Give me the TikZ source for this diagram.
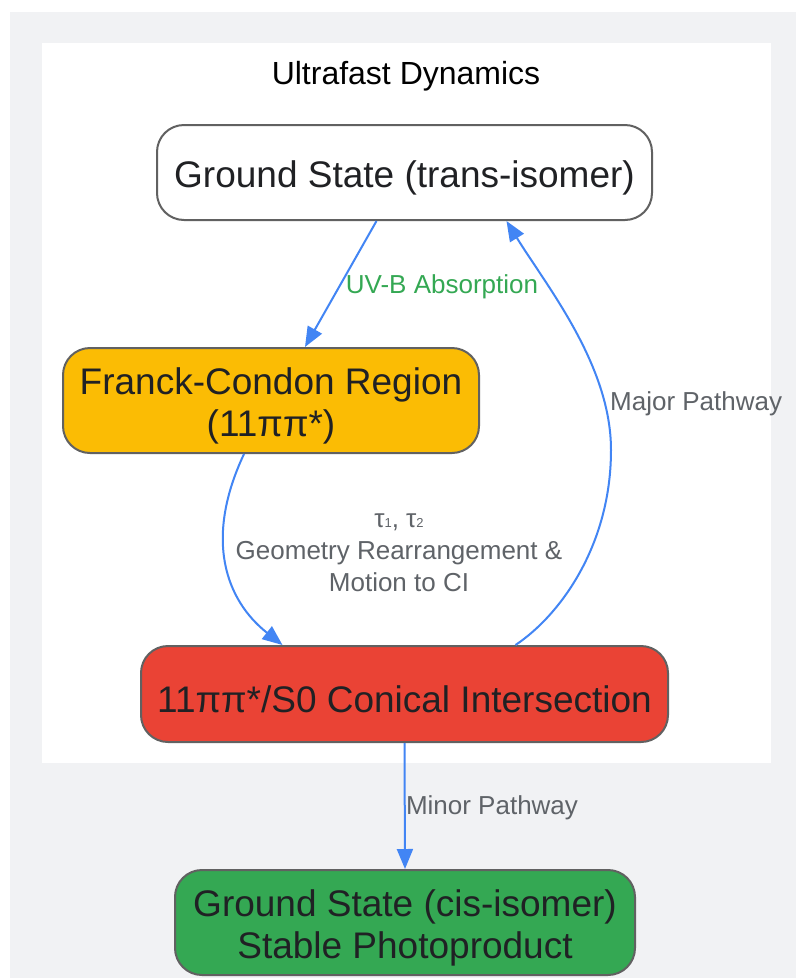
\documentclass[tikz,border=0pt]{standalone}
\usepackage{fontspec}
\setmainfont{Liberation Sans}
\usepackage{tikz}
\usetikzlibrary{arrows.meta}
\definecolor{canvas}{HTML}{F1F2F4}
\definecolor{nodeline}{HTML}{616161}
\definecolor{nodetext}{HTML}{202124}
\definecolor{labelgray}{HTML}{5F6368}
\definecolor{flowblue}{HTML}{4285F4}
\definecolor{fcyellow}{HTML}{FBBC04}
\definecolor{cired}{HTML}{EA4335}
\definecolor{cisgreen}{HTML}{34A853}
\tikzstyle{state} = [draw=nodeline, line width=2pt, rounded corners=27pt, text=nodetext, align=center, inner sep=0pt, font=\fontsize{37}{42}\selectfont]
\tikzstyle{flow} = [draw=flowblue, line width=2pt, -{Triangle[length=20pt,width=16pt]}]
\tikzstyle{edgelabel} = [text=labelgray, align=center, font=\fontsize{26}{32}\selectfont]
\newcommand{\sub}[1]{{\fontsize{13}{13}\selectfont #1}}
\newcommand{\lift}{\rule{0pt}{37pt}}

\begin{document}
\begin{tikzpicture}[x=1pt,y=-1pt]
		\useasboundingbox (0,0) rectangle (796,978);
		\fill[canvas] (10,12) rectangle (796,978);
		\fill[white] (42,43) rectangle (771,763);
		\node[font=\fontsize{32}{38}\selectfont] (title) at (406,76) {Ultrafast Dynamics};
		% states
		\node[state, fill=white, minimum width=495pt, minimum height=95pt] (trans) at (404.5,172.5) {\lift Ground State (trans-isomer)};
		\node[state, fill=fcyellow, minimum width=416pt, minimum height=105pt] (fc) at (271,400.5) {\lift Franck-Condon Region\\(11ππ*)};
		\node[state, fill=cired, minimum width=527pt, minimum height=96pt] (ci) at (404.5,694) {\lift 11ππ*/S0 Conical Intersection};
		\node[state, fill=cisgreen, minimum width=460pt, minimum height=105pt] (cis) at (405,922.5) {\lift Ground State (cis-isomer)\\Stable Photoproduct};
		\coordinate (bend) at (611,450);
		% transitions
		\draw[flow] ([xshift=-28pt]trans.south) -- ([xshift=34pt]fc.north);
		\draw[flow] ([xshift=-27pt]fc.south) .. controls +(-40,85) and +(-57,-45) .. ([xshift=-122pt]ci.north);
		\draw[flow] ([xshift=111pt]ci.north) .. controls +(45,-30) and +(0,95) .. (bend) .. controls +(0,-85) and +(40,65) .. ([xshift=102pt]trans.south);
		\draw[flow] (ci.south) -- (cis.north);
		% labels
		\node[edgelabel, text=cisgreen] (uvb) at (442,287) {UV-B Absorption};
		\node[edgelabel] (geom) at (399,553) {τ\sub{1}, τ\sub{2}\\Geometry Rearrangement \&\\Motion to CI};
		\node[edgelabel, anchor=west, inner sep=0pt] (major) at (610,404) {Major Pathway};
		\node[edgelabel] (minor) at (492,808) {Minor Pathway};
	\end{tikzpicture}
\end{document}
